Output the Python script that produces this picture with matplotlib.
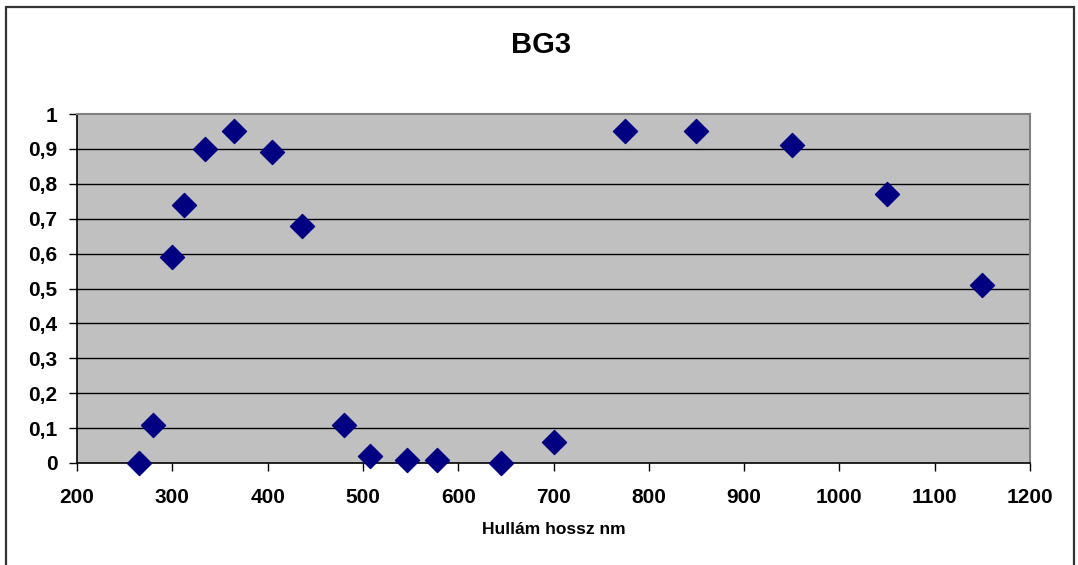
import matplotlib
matplotlib.use("Agg")
import matplotlib.pyplot as plt
from matplotlib.patches import Rectangle
from matplotlib.ticker import FuncFormatter

wavelength = [265, 280, 300, 312, 334, 365, 405, 436, 480, 507, 546, 578, 645, 700, 775, 850, 950, 1050, 1150]
transmission = [0.0, 0.11, 0.59, 0.74, 0.90, 0.95, 0.89, 0.68, 0.11, 0.02, 0.01, 0.01, 0.0, 0.06, 0.95, 0.95, 0.91, 0.77, 0.51]
title = "BG3"
xlabel = "Hullám hossz nm"
x_ticks = [200, 300, 400, 500, 600, 700, 800, 900, 1000, 1100, 1200]
y_ticks = [0, 0.1, 0.2, 0.3, 0.4, 0.5, 0.6, 0.7, 0.8, 0.9, 1.0]

plt.rcParams['font.family'] = ['Liberation Sans', 'DejaVu Sans']

W, H = 1078, 565
fig = plt.figure(figsize=(W / 100, H / 100), dpi=100)
fig.patch.set_facecolor('white')

# outer frame
fig.patches.append(Rectangle((5.5 / W, -0.05), (1073.5 - 5.5) / W, (H - 6.5) / H + 0.05,
                             transform=fig.transFigure, fill=False,
                             edgecolor='#333333', linewidth=1.6, zorder=0))

l, r = 77 / W, 1030 / W
b, t = (H - 463) / H, (H - 114) / H
ax = fig.add_axes([l, b, r - l, t - b])
ax.set_facecolor('#c0c0c0')

ax.set_xlim(200, 1200)
ax.set_ylim(0, 1)
ax.set_xticks(x_ticks)
ax.set_yticks(y_ticks)
ax.yaxis.set_major_formatter(FuncFormatter(lambda v, p: ('%g' % round(v, 1)).replace('.', ',')))

for yv in y_ticks[1:-1]:
    ax.axhline(yv, color='black', linewidth=1.0, zorder=1)

ax.scatter(wavelength, transmission, marker='D', s=150, color='#000080',
           edgecolors='#000080', zorder=3, clip_on=False)

for side in ['top', 'right']:
    ax.spines[side].set_color('#808080')
    ax.spines[side].set_linewidth(1.5)
for side in ['left', 'bottom']:
    ax.spines[side].set_color('black')
    ax.spines[side].set_linewidth(1.2)

ax.tick_params(axis='both', direction='out', length=6, width=1.0, colors='black',
               labelsize=15)
ax.tick_params(axis='x', pad=12)
ax.tick_params(axis='y', pad=8)
for lab in ax.get_xticklabels() + ax.get_yticklabels():
    lab.set_fontweight('bold')

ax.set_xlabel(xlabel, fontsize=12.5, fontweight='bold', labelpad=11)
fig.text(541 / W, 1 - 45 / H, title, ha='center', va='center', fontsize=21, fontweight='bold')

fig.savefig('out.png', dpi=100)
